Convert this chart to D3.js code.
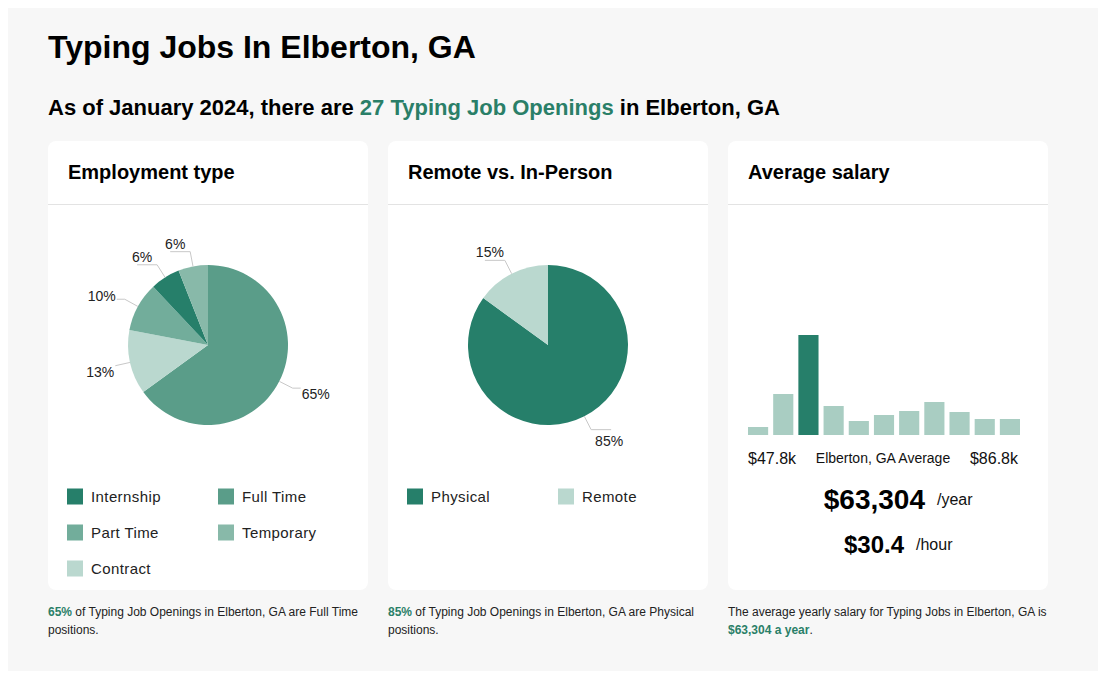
<!DOCTYPE html>
<html><head><meta charset="utf-8">
<script src="https://cdn.jsdelivr.net/npm/d3@7"></script>
<style>
body{margin:0;background:#fff;font-family:"Liberation Sans",Arial,sans-serif;}
svg text{font-family:"Liberation Sans",Arial,sans-serif;}
</style></head>
<body><svg id="c" width="1110" height="695"></svg>
<script>
const title = "Typing Jobs In Elberton, GA";
const subtitleParts = ["As of January 2024, there are ", "27 Typing Job Openings", " in Elberton, GA"];
const empTypes = ["Full Time", "Contract", "Part Time", "Internship", "Temporary"];
const empValues = [65, 13, 10, 6, 6];
const empColors = ["#5a9d89", "#bad8cf", "#72ad9b", "#267f6a", "#88b9a9"];
const empLegendOrder = ["Internship", "Full Time", "Part Time", "Temporary", "Contract"];
const remoteTypes = ["Physical", "Remote"];
const remoteValues = [85, 15];
const remoteColors = ["#267f6a", "#bad8cf"];
const salaryBins = [8, 41, 100, 29, 14, 20, 24, 33, 23, 16, 16];
const salaryHighlight = 2;
const salaryMinLabel = "$47.8k", salaryMaxLabel = "$86.8k";
const salaryYear = "$63,304", salaryHour = "$30.4";
const green = "#2a7f68";

const svg = d3.select("#c");
svg.append("rect").attr("x",8).attr("y",8).attr("width",1090).attr("height",663).attr("fill","#f7f7f7");
svg.append("text").attr("x",48).attr("y",58).attr("font-size",32).attr("font-weight","bold").attr("fill","#000").text(title);
const st = svg.append("text").attr("x",48).attr("y",115).attr("font-size",22).attr("font-weight","bold").attr("fill","#000");
subtitleParts.forEach((p,i)=>st.append("tspan").attr("fill", i===1?green:"#000").text(p));

const cardX = [48, 388, 728];
const cardTitles = ["Employment type", "Remote vs. In-Person", "Average salary"];
cardX.forEach((x,i)=>{
  svg.append("rect").attr("x",x).attr("y",141).attr("width",320).attr("height",449).attr("rx",8).attr("fill","#fff");
  svg.append("line").attr("x1",x).attr("x2",x+320).attr("y1",204.5).attr("y2",204.5).attr("stroke","#e3e3e3");
  svg.append("text").attr("x",x+20).attr("y",179).attr("font-size",20).attr("font-weight","bold").attr("fill","#000").text(cardTitles[i]);
});

function drawPie(cx, cy, names, values, colors){
  const r = 80;
  const g = svg.append("g").attr("transform",`translate(${cx},${cy})`);
  const arcs = d3.pie().sort(null).value(d=>d)(values);
  const arc = d3.arc().innerRadius(0).outerRadius(r);
  g.selectAll("path").data(arcs).join("path").attr("d",arc).attr("fill",(d,i)=>colors[i]);
  arcs.forEach((d,i)=>{
    const a = (d.startAngle+d.endAngle)/2;
    const sx = Math.sin(a), sy = -Math.cos(a);
    const side = sx >= 0 ? 1 : -1;
    const p0 = [sx*r, sy*r], p1 = [sx*(r+15), sy*(r+15)];
    const nearPole = Math.abs(sx) < 0.6;
    const segLen = nearPole ? 20 : (Math.abs(sy) < 0.3 ? 0 : 8);
    const p2 = [p1[0]+side*segLen, p1[1]];
    g.append("polyline").attr("points",[p0,p1,p2].map(p=>p.join(",")).join(" "))
      .attr("fill","none").attr("stroke","#c8c8c8").attr("stroke-width",1);
    const lbl = Math.round(values[i]) + "%";
    const t = g.append("text").attr("font-size",14).attr("fill","#222").text(lbl).attr("dominant-baseline","central");
    if (nearPole){
      t.attr("text-anchor","middle").attr("x",(p1[0]+p2[0])/2 + (sy>0? side*8 : side*5)).attr("y", p1[1] + (sy<0 ? -8 : 11));
    } else {
      t.attr("text-anchor", side>0?"start":"end").attr("x", p2[0]+side*1).attr("y", p1[1] + (sy<0 ? -3 : 6));
    }
  });
}
drawPie(208, 345, empTypes, empValues, empColors);
drawPie(548, 345, remoteTypes, remoteValues, remoteColors);

function legend(x0, names, colorOf){
  names.forEach((n,i)=>{
    const col = i%2, row = Math.floor(i/2);
    const x = x0 + 19 + col*151, y = 496.5 + row*36;
    svg.append("rect").attr("x",x).attr("y",y-8).attr("width",16).attr("height",16).attr("fill",colorOf(n));
    svg.append("text").attr("x",x+24).attr("y",y-0.5).attr("dominant-baseline","central").attr("font-size",15)
      .attr("letter-spacing","0.4px").attr("fill","#222").text(n);
  });
}
legend(48, empLegendOrder, n=>empColors[empTypes.indexOf(n)]);
legend(388, remoteTypes, n=>remoteColors[remoteTypes.indexOf(n)]);

// histogram
const xb = d3.scaleBand().domain(d3.range(salaryBins.length)).range([748,1020]).paddingInner(0.2).paddingOuter(0);
const yb = d3.scaleLinear().domain([0,100]).range([435,335]);
svg.selectAll("rect.bar").data(salaryBins).join("rect").attr("class","bar")
  .attr("x",(d,i)=>xb(i)).attr("width",xb.bandwidth()).attr("y",d=>yb(d)).attr("height",d=>435-yb(d))
  .attr("fill",(d,i)=>i===salaryHighlight?"#267f6a":"#a9cdc2");
svg.append("text").attr("x",748).attr("y",458).attr("dominant-baseline","central").attr("font-size",16).attr("fill","#111").text(salaryMinLabel);
svg.append("text").attr("x",1018).attr("y",458).attr("text-anchor","end").attr("dominant-baseline","central").attr("font-size",16).attr("fill","#111").text(salaryMaxLabel);
svg.append("text").attr("x",883).attr("y",458).attr("text-anchor","middle").attr("dominant-baseline","central").attr("font-size",14).attr("fill","#111").text("Elberton, GA Average");
svg.append("text").attr("x",925).attr("y",499).attr("text-anchor","end").attr("dominant-baseline","central").attr("font-size",28).attr("font-weight","bold").attr("fill","#000").text(salaryYear);
svg.append("text").attr("x",937).attr("y",499).attr("dominant-baseline","central").attr("font-size",16).attr("fill","#111").text("/year");
svg.append("text").attr("x",904).attr("y",544).attr("text-anchor","end").attr("dominant-baseline","central").attr("font-size",24).attr("font-weight","bold").attr("fill","#000").text(salaryHour);
svg.append("text").attr("x",916).attr("y",544).attr("dominant-baseline","central").attr("font-size",16).attr("fill","#111").text("/hour");

// footers
function footer(x, lines){
  lines.forEach((parts,li)=>{
    const t = svg.append("text").attr("x",x).attr("y",616+li*18).attr("font-size",12).attr("fill","#222");
    parts.forEach(p=>t.append("tspan").attr("font-weight",p[1]?"bold":"normal").attr("fill",p[1]?green:"#222").text(p[0]));
  });
}
footer(48, [[[empValues[0]+"%",1],[" of Typing Job Openings in Elberton, GA are Full Time",0]],[["positions.",0]]]);
footer(388, [[[remoteValues[0]+"%",1],[" of Typing Job Openings in Elberton, GA are Physical",0]],[["positions.",0]]]);
footer(728, [[["The average yearly salary for Typing Jobs in Elberton, GA is",0]],[[salaryYear+" a year",1],[".",0]]]);
</script></body></html>
